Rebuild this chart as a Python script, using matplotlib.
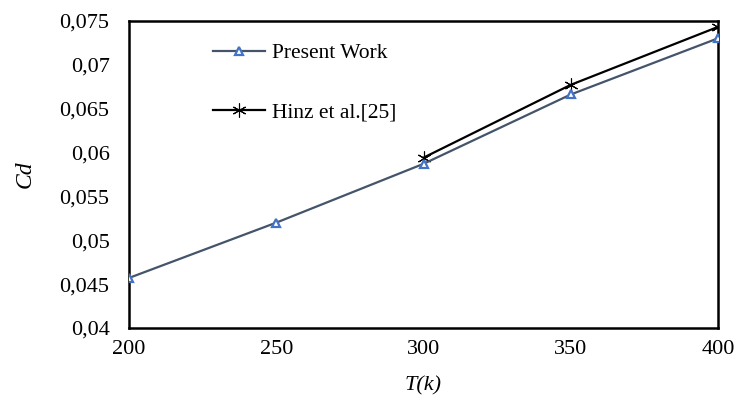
import matplotlib
matplotlib.use('Agg')
import matplotlib.pyplot as plt

# ── data ─────────────────────────────────────────────────────
temp_present = [200, 250, 300, 350, 400]
cd_present   = [0.0457, 0.0520, 0.0587, 0.0666, 0.0730]

temp_hinz = [300, 350, 400]
cd_hinz   = [0.0594, 0.0677, 0.0743]

y_ticks  = [0.04, 0.045, 0.05, 0.055, 0.06, 0.065, 0.07, 0.075]
y_labels = ['0,04', '0,045', '0,05', '0,055', '0,06', '0,065', '0,07', '0,075']
x_ticks  = [200, 250, 300, 350, 400]

plt.rcParams['font.family'] = ['Liberation Serif', 'DejaVu Serif']

fig = plt.figure(figsize=(7.35, 3.99), dpi=100)
ax = fig.add_axes([0.1755, 0.178, 0.8014, 0.770])

ax.plot(temp_present, cd_present, '-', color='#44546A', linewidth=1.6,
        marker='^', markersize=6, markerfacecolor='white',
        markeredgecolor='#4472C4', markeredgewidth=1.6, label='Present Work',
        zorder=3)
ax.plot(temp_hinz, cd_hinz, '-', color='black', linewidth=1.6,
        marker=(6, 2, 0), markersize=10, markeredgecolor='black',
        markeredgewidth=0.8, label='Hinz et al.[25]', zorder=2)

ax.set_xlim(200, 400)
ax.set_ylim(0.04, 0.075)
ax.set_xticks(x_ticks)
ax.set_xticklabels([str(t) for t in x_ticks])
ax.set_yticks(y_ticks)
ax.set_yticklabels(y_labels)
ax.tick_params(length=0, labelsize=16, colors='black')
ax.tick_params(axis='x', pad=9)
ax.tick_params(axis='y', pad=14)

for s in ax.spines.values():
    s.set_linewidth(1.8)
    s.set_color('black')

ax.set_xlabel('T(k)', fontsize=16, fontstyle='italic', labelpad=12)
ax.set_ylabel('Cd', fontsize=17, fontstyle='italic', labelpad=17)

ax.legend(loc='upper left', bbox_to_anchor=(0.11, 0.99), frameon=False,
          fontsize=15.5, handlelength=2.4, labelspacing=1.8, handletextpad=0.35)

fig.savefig('out.png', dpi=100)
